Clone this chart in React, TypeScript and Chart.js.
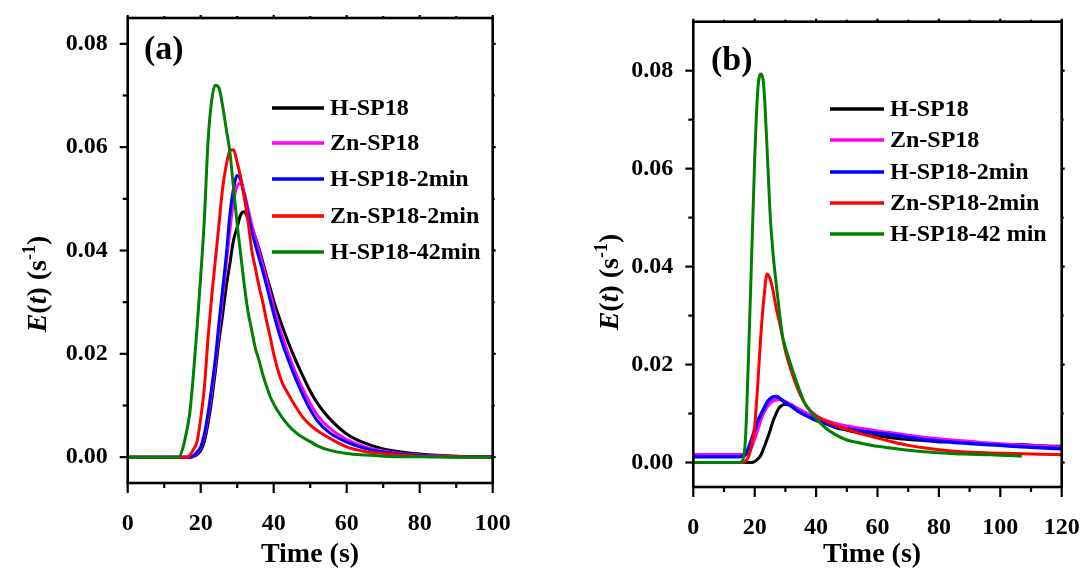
import React, { useEffect, useRef } from "react";
import { Chart, registerables } from "chart.js";
Chart.register(...registerables);

const FONT = '"Liberation Serif", "Times New Roman", serif';

// ---------- Panel (a) data ----------
const timeA = [0, 10, 14, 15, 16, 17, 18, 19, 20, 21, 22, 23, 24, 25, 26, 27, 28, 29, 30, 31, 32, 33, 34, 35, 36, 37, 38, 39, 40, 42, 44, 46, 48, 50, 52, 55, 60, 65, 70, 75, 80, 90, 100];
const hSP18A = [0, 0, 0, 0, 0, 0, 0.0001, 0.0005, 0.0013, 0.003, 0.0065, 0.011, 0.0165, 0.0225, 0.0275, 0.033, 0.0375, 0.042, 0.0445, 0.047, 0.0475, 0.046, 0.0445, 0.0425, 0.0403, 0.0378, 0.0352, 0.0328, 0.0303, 0.026, 0.0222, 0.0188, 0.0157, 0.0128, 0.0104, 0.0077, 0.0045, 0.0027, 0.0016, 0.001, 0.0006, 0.0002, 0.0001];
const znSP18A = [0, 0, 0, 0, 0, 0, 0.0002, 0.0008, 0.0018, 0.004, 0.0078, 0.0125, 0.018, 0.0245, 0.031, 0.0375, 0.044, 0.0495, 0.0525, 0.053, 0.051, 0.048, 0.045, 0.0423, 0.0398, 0.0372, 0.0345, 0.0318, 0.029, 0.0242, 0.02, 0.0163, 0.0132, 0.0104, 0.0081, 0.0058, 0.0034, 0.002, 0.0012, 0.0007, 0.0004, 0.0001, 0];
const hSP18_2A = [0, 0, 0, 0, 0, 0, 0.0003, 0.001, 0.002, 0.0045, 0.0085, 0.0135, 0.019, 0.026, 0.0325, 0.039, 0.047, 0.052, 0.0545, 0.0535, 0.0505, 0.047, 0.0437, 0.041, 0.0385, 0.036, 0.0333, 0.0305, 0.0277, 0.0228, 0.0188, 0.0152, 0.012, 0.0092, 0.007, 0.0049, 0.0029, 0.0017, 0.001, 0.0006, 0.0003, 0.0001, 0];
const znSP18_2A = [0, 0, 0, 0, 0, 0.0003, 0.0015, 0.003, 0.0075, 0.0135, 0.023, 0.031, 0.038, 0.045, 0.052, 0.0565, 0.0593, 0.0595, 0.057, 0.054, 0.05, 0.0455, 0.04, 0.0365, 0.033, 0.03, 0.0265, 0.0234, 0.02, 0.015, 0.0122, 0.0098, 0.0077, 0.0062, 0.0051, 0.0038, 0.002, 0.0011, 0.0007, 0.0004, 0.0002, 0.0001, 0];
const hSP18_42A = [0, 0, 0, 0.0015, 0.0045, 0.0085, 0.016, 0.025, 0.035, 0.046, 0.061, 0.069, 0.072, 0.0715, 0.068, 0.0635, 0.059, 0.052, 0.045, 0.039, 0.033, 0.028, 0.0245, 0.021, 0.0187, 0.016, 0.0138, 0.0118, 0.0103, 0.008, 0.0062, 0.0048, 0.0038, 0.003, 0.0022, 0.0014, 0.0007, 0.0004, 0.0002, 0.0001, 0.0001, 0, 0];

// ---------- Panel (b) data ----------
const timeB = [0, 10, 15, 16, 17, 18, 19, 20, 21, 22, 23, 24, 25, 26, 27, 28, 29, 30, 32, 34, 36, 38, 40, 43, 46, 50, 55, 60, 65, 70, 75, 80, 85, 90, 95, 100, 107, 113, 120];
const hSP18B = [0, 0, 0, 0, 0, 0, 0, 0.0002, 0.0007, 0.0015, 0.003, 0.0047, 0.0065, 0.0085, 0.01, 0.0112, 0.0117, 0.0119, 0.0115, 0.011, 0.0103, 0.0095, 0.0088, 0.008, 0.0072, 0.0066, 0.006, 0.0055, 0.005, 0.0047, 0.0045, 0.0042, 0.0043, 0.004, 0.0039, 0.0037, 0.0037, 0.0034, 0.0033];
const znSP18B = [0.0016, 0.0016, 0.0016, 0.0016, 0.0017, 0.002, 0.0032, 0.005, 0.0068, 0.0088, 0.0103, 0.0114, 0.0121, 0.0126, 0.0128, 0.0129, 0.0127, 0.0124, 0.0118, 0.011, 0.0103, 0.0097, 0.0092, 0.0086, 0.008, 0.0074, 0.0069, 0.0064, 0.006, 0.0055, 0.0051, 0.0048, 0.0045, 0.0043, 0.004, 0.0038, 0.0035, 0.0033, 0.0031];
const hSP18_2B = [0.0012, 0.0012, 0.0012, 0.0013, 0.0016, 0.003, 0.0048, 0.0066, 0.0085, 0.0098, 0.011, 0.0122, 0.013, 0.0134, 0.0135, 0.0132, 0.0127, 0.0122, 0.0115, 0.0105, 0.0098, 0.0092, 0.0086, 0.008, 0.0074, 0.0069, 0.0064, 0.006, 0.0056, 0.0051, 0.0047, 0.0044, 0.0041, 0.0039, 0.0037, 0.0035, 0.0032, 0.003, 0.0028];
const znSP18_2B = [0, 0, 0, 0, 0.0003, 0.0012, 0.0035, 0.0075, 0.016, 0.026, 0.0335, 0.0385, 0.0375, 0.035, 0.0315, 0.0288, 0.0258, 0.0228, 0.0185, 0.015, 0.0124, 0.0106, 0.0096, 0.0085, 0.0077, 0.0068, 0.0058, 0.005, 0.0042, 0.0035, 0.003, 0.0026, 0.0023, 0.0021, 0.002, 0.0019, 0.0018, 0.0017, 0.0016];
const hSP18_42B = [0, 0, 0, 0.0003, 0.005, 0.022, 0.042, 0.062, 0.076, 0.0793, 0.0765, 0.0645, 0.051, 0.0425, 0.0365, 0.031, 0.026, 0.0235, 0.0195, 0.0158, 0.0125, 0.0106, 0.009, 0.0071, 0.0058, 0.0046, 0.0039, 0.0033, 0.0029, 0.0025, 0.0022, 0.002, 0.0018, 0.0017, 0.0016, 0.0015, 0.0013, null, null];

// ---------- labels / ticks ----------
const seriesLabelsA = ["H-SP18", "Zn-SP18", "H-SP18-2min", "Zn-SP18-2min", "H-SP18-42min"];
const seriesLabelsB = ["H-SP18", "Zn-SP18", "H-SP18-2min", "Zn-SP18-2min", "H-SP18-42 min"];
const seriesColors = ["#000000", "#ff00ff", "#0000ff", "#ff0000", "#008000"];
const xTicksA = [0, 20, 40, 60, 80, 100];
const xMinorA = [10, 30, 50, 70, 90];
const yTicksA = [0, 0.02, 0.04, 0.06, 0.08];
const yMinorA = [0.01, 0.03, 0.05, 0.07];
const xTicksB = [0, 20, 40, 60, 80, 100, 120];
const xMinorB = [10, 30, 50, 70, 90, 110];
const yTicksB = [0, 0.02, 0.04, 0.06, 0.08];
const yMinorB = [0.01, 0.03, 0.05, 0.07];

type Panel = {
  time: number[];
  series: (number | null)[][];
  labels: string[];
  xTicks: number[]; xMinor: number[]; yTicks: number[]; yMinor: number[];
  xMax: number; yMin: number; yMax: number;
  width: number;
  area: { left: number; right: number; top: number; bottom: number };
  legend: { x1: number; x2: number; tx: number; rows: number[] };
  tag: string; tagX: number; tagY: number;
  yTitle: { x: number; y: number };
  xTitle: { x: number; y: number };
  lw: number[];
};

function drawYTitle(ctx: CanvasRenderingContext2D, cx: number, cy: number) {
  const b = `bold 28px ${FONT}`;
  const bi = `italic bold 28px ${FONT}`;
  const sup = `bold 18px ${FONT}`;
  const parts = [
    { t: "E", f: bi, dy: 0 },
    { t: "(", f: b, dy: 0 },
    { t: "t", f: bi, dy: 0 },
    { t: ") (s", f: b, dy: 0 },
    { t: "-1", f: sup, dy: -11 },
    { t: ")", f: b, dy: 0 },
  ];
  ctx.save();
  ctx.translate(cx, cy);
  ctx.rotate(-Math.PI / 2);
  let total = 0;
  const ws = parts.map((p) => { ctx.font = p.f; const w = ctx.measureText(p.t).width; total += w; return w; });
  let x = -total / 2;
  ctx.fillStyle = "#000";
  ctx.textBaseline = "alphabetic";
  ctx.textAlign = "left";
  parts.forEach((p, i) => { ctx.font = p.f; ctx.fillText(p.t, x, 9 + p.dy); x += ws[i]; });
  ctx.restore();
}

function makeDecor(p: Panel) {
  return {
    id: "decor",
    afterDatasetsDraw(chart: any) {
      const { ctx, chartArea: a, scales } = chart;
      const xs = scales.x, ys = scales.y;
      ctx.save();
      ctx.strokeStyle = "#000";
      ctx.lineCap = "butt";
      const ln = (x1: number, y1: number, x2: number, y2: number) => { ctx.beginPath(); ctx.moveTo(x1, y1); ctx.lineTo(x2, y2); ctx.stroke(); };
      ctx.lineWidth = 2.2;
      for (const v of p.xTicks) { const px = xs.getPixelForValue(v); ln(px, a.bottom, px, a.bottom + 10); ln(px, a.top, px, a.top - 3); }
      for (const v of p.xMinor) { const px = xs.getPixelForValue(v); ln(px, a.bottom, px, a.bottom + 5); ln(px, a.top, px, a.top - 2); }
      for (const v of p.yTicks) { const py = ys.getPixelForValue(v); ln(a.left, py, a.left - 8, py); ln(a.right, py, a.right + 3, py); }
      for (const v of p.yMinor) { const py = ys.getPixelForValue(v); ln(a.left, py, a.left - 5, py); ln(a.right, py, a.right + 2, py); }
      ctx.lineWidth = 2.6;
      ctx.strokeRect(a.left, a.top, a.right - a.left, a.bottom - a.top);

      // legend
      ctx.textBaseline = "middle";
      ctx.textAlign = "left";
      ctx.font = `bold 24px ${FONT}`;
      p.labels.forEach((lab, i) => {
        const y = p.legend.rows[i];
        ctx.strokeStyle = seriesColors[i];
        ctx.lineWidth = 3.5;
        ln(p.legend.x1, y, p.legend.x2, y);
        ctx.fillStyle = "#000";
        ctx.fillText(lab, p.legend.tx, y + 1);
      });

      // panel tag
      ctx.font = `bold 34px ${FONT}`;
      ctx.fillStyle = "#000";
      ctx.fillText(p.tag, p.tagX, p.tagY);

      // x title
      ctx.font = `bold 28px ${FONT}`;
      ctx.textAlign = "center";
      ctx.fillText("Time (s)", p.xTitle.x, p.xTitle.y);

      drawYTitle(ctx, p.yTitle.x, p.yTitle.y);
      ctx.restore();
    },
  };
}

function PanelChart({ p, left }: { p: Panel; left: number }) {
  const ref = useRef<HTMLCanvasElement | null>(null);
  useEffect(() => {
    if (!ref.current) return;
    const datasets = p.series.map((s, i) => ({
      label: p.labels[i],
      data: p.time.map((t, j) => ({ x: t, y: s[j] })).filter((d) => d.y !== null),
      borderColor: seriesColors[i],
      backgroundColor: seriesColors[i],
      borderWidth: p.lw[i],
      pointRadius: 0,
      cubicInterpolationMode: "monotone" as const,
      fill: false,
      order: 4 - i,
    }));
    const tickFont = { family: FONT, size: 24, weight: "bold" as const };
    const chart = new Chart(ref.current, {
      type: "line",
      data: { datasets },
      options: {
        animation: false,
        responsive: false,
        devicePixelRatio: 1,
        events: [],
        layout: { padding: { left: 0, top: p.area.top, right: p.width - p.area.right, bottom: 0 } },
        plugins: { legend: { display: false }, tooltip: { enabled: false }, title: { display: false } },
        scales: {
          x: {
            type: "linear",
            min: 0,
            max: p.xMax,
            afterBuildTicks: (s: any) => { s.ticks = p.xTicks.map((v) => ({ value: v })); },
            ticks: { font: tickFont, color: "#000", padding: 26, maxRotation: 0, autoSkip: false, callback: (v: any) => String(v) },
            grid: { display: false, drawTicks: false },
            border: { display: false },
            afterFit: (s: any) => { s.height = 574 - p.area.bottom; s.paddingLeft = 0; s.paddingRight = 0; s.paddingTop = 0; s.paddingBottom = 0; },
          },
          y: {
            type: "linear",
            min: p.yMin,
            max: p.yMax,
            afterBuildTicks: (s: any) => { s.ticks = p.yTicks.map((v) => ({ value: v })); },
            ticks: { font: tickFont, color: "#000", padding: 20, autoSkip: false, callback: (v: any) => Number(v).toFixed(2) },
            grid: { display: false, drawTicks: false },
            border: { display: false },
            afterFit: (s: any) => { s.width = p.area.left; s.paddingTop = 0; s.paddingBottom = 0; s.paddingLeft = 0; s.paddingRight = 0; },
          },
        },
      },
      plugins: [makeDecor(p)],
    } as any);
    return () => chart.destroy();
  }, [p]);
  return <canvas ref={ref} width={p.width} height={574} style={{ position: "absolute", left, top: 0 }} />;
}

const panelA: Panel = {
  time: timeA,
  series: [hSP18A, znSP18A, hSP18_2A, znSP18_2A, hSP18_42A],
  labels: seriesLabelsA,
  xTicks: xTicksA, xMinor: xMinorA, yTicks: yTicksA, yMinor: yMinorA,
  xMax: 100, yMin: -0.005, yMax: 0.085,
  width: 545,
  area: { left: 127.7, right: 492.7, top: 18, bottom: 483 },
  legend: { x1: 272, x2: 324, tx: 330, rows: [108, 143, 179, 216, 252] },
  tag: "(a)", tagX: 144, tagY: 50,
  yTitle: { x: 37, y: 284 },
  xTitle: { x: 310, y: 555 },
  lw: [3, 3, 3, 3, 3],
};

const panelB: Panel = {
  time: timeB,
  series: [hSP18B, znSP18B, hSP18_2B, znSP18_2B, hSP18_42B],
  labels: seriesLabelsB,
  xTicks: xTicksB, xMinor: xMinorB, yTicks: yTicksB, yMinor: yMinorB,
  xMax: 120, yMin: -0.005, yMax: 0.09,
  width: 540,
  area: { left: 148.3, right: 516.7, top: 21.7, bottom: 487 },
  legend: { x1: 285, x2: 339, tx: 345, rows: [109, 140, 172, 203, 234] },
  tag: "(b)", tagX: 166, tagY: 61,
  yTitle: { x: 64, y: 282 },
  xTitle: { x: 327, y: 555 },
  lw: [3, 3.5, 3.5, 3, 3],
};

export default function App() {
  return (
    <div style={{ position: "fixed", left: 0, top: 0, width: 1085, height: 574, background: "#fff", overflow: "hidden" }}>
      <PanelChart p={panelA} left={0} />
      <PanelChart p={panelB} left={545} />
    </div>
  );
}
